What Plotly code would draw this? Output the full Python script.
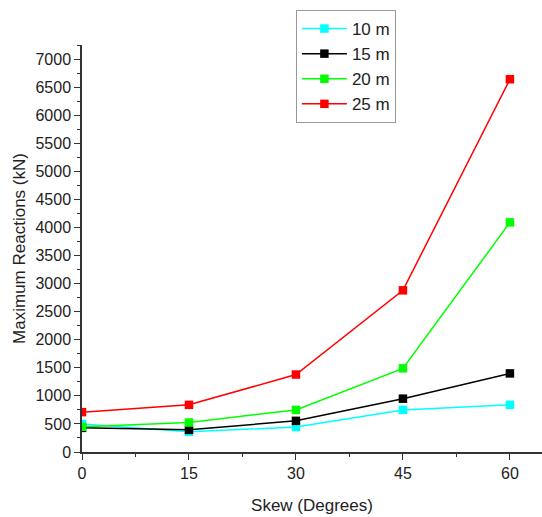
import plotly.graph_objects as go

skew = [0, 15, 30, 45, 60]
names = ["10 m", "15 m", "20 m", "25 m"]
r10 = [500, 360, 445, 750, 840]
r15 = [430, 395, 555, 950, 1400]
r20 = [450, 525, 750, 1490, 4090]
r25 = [710, 840, 1380, 2880, 6640]
colors = ["#00FFFF", "#000000", "#00FF00", "#FF0000"]
y_ticks = list(range(0, 7001, 500))
x_ticks = [0, 15, 30, 45, 60]

FONT = "Liberation Sans, Arial"

fig = go.Figure()
for name, vals, c in zip(names, [r10, r15, r20, r25], colors):
    fig.add_trace(go.Scatter(
        x=skew, y=vals, name=name, mode="lines+markers",
        line=dict(color=c, width=1.5),
        marker=dict(symbol="square", size=8.5, color=c),
    ))

axis_common = dict(
    showgrid=False, zeroline=False, showline=True, linecolor="#333", linewidth=1.5,
    ticks="outside", ticklen=6, tickwidth=1.2, tickcolor="#333",
    tickfont=dict(family=FONT, size=16, color="#222"),
    automargin=False,
)
fig.update_xaxes(
    range=[0, 64.5], tickvals=x_ticks,
    minor=dict(ticks="outside", ticklen=3, tickcolor="#333", dtick=7.5, tick0=0),
    title=dict(text="Skew (Degrees)", font=dict(family=FONT, size=17, color="#222"), standoff=18),
    **axis_common,
)
fig.update_yaxes(
    range=[0, 7250], tickvals=y_ticks,
    minor=dict(ticks="outside", ticklen=3, tickcolor="#333", dtick=250, tick0=0),
    title=dict(text="Maximum Reactions (kN)", font=dict(family=FONT, size=17, color="#222"), standoff=6),
    **axis_common,
)
fig.update_layout(
    width=542, height=517,
    margin=dict(l=82, r=0, t=45, b=65),
    plot_bgcolor="white", paper_bgcolor="white",
    font=dict(family=FONT, color="#222"),
    showlegend=True,
    legend=dict(
        x=0.465, y=1.086, xanchor="left", yanchor="top",
        bordercolor="#999", borderwidth=1, bgcolor="white",
        font=dict(size=17, color="#222"), tracegroupgap=0, itemwidth=45,
    ),
)
fig.write_html("out.html", config={"displayModeBar": False},
               post_script="document.body.style.margin='0';document.body.style.overflow='hidden';")
